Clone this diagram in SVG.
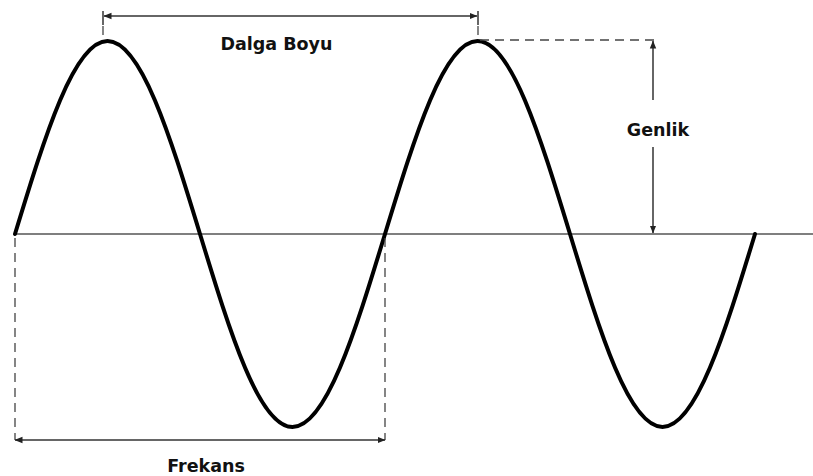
<svg xmlns="http://www.w3.org/2000/svg" width="813" height="476" viewBox="0 0 813 476">
<defs>
<marker id="ah" viewBox="0 0 8 8" refX="7.5" refY="4" markerWidth="8" markerHeight="8" markerUnits="userSpaceOnUse" orient="auto-start-reverse">
<path d="M0,0.8 L8,4 L0,7.2 Z" fill="#222"/>
</marker>
</defs>
<style>
.lbl{font-family:"DejaVu Sans",Verdana,sans-serif;font-weight:bold;font-size:17.5px;fill:#111;text-anchor:middle}
.dim{stroke:#333;stroke-width:1.5;fill:none}
.dash{stroke:#444;stroke-width:1.3;fill:none;stroke-dasharray:9,6}
.axis{stroke:#555;stroke-width:1.6;fill:none}
.wave{stroke:#000;stroke-width:4;fill:none;stroke-linejoin:round;stroke-linecap:round}
</style>
<rect width="813" height="476" fill="#fff"/>
<g id="axis">
<line class="axis" x1="15" y1="234" x2="813" y2="234"/>
</g>
<g id="wave">
<path class="wave" d="M15,234 C45.17,135.13 74.03,41 107.5,41 C140.97,41 169.83,135.13 200,234 C230.17,332.87 258.97,427 292.5,427 C326.03,427 354.83,332.87 385,234 C415.17,135.13 444.03,41 477.5,41 C510.97,41 539.83,135.13 570,234 C600.17,332.87 628.97,427 662.5,427 C696.03,427 724.83,332.87 755,234"/>
</g>
<g id="connectors">
<line class="dash" x1="103" y1="26" x2="103" y2="40"/>
<line class="dash" x1="478" y1="26" x2="478" y2="40"/>
<line class="dim" x1="103" y1="11" x2="103" y2="25"/>
<line class="dim" x1="478" y1="11" x2="478" y2="25"/>
<line class="dim" x1="104" y1="16" x2="477" y2="16" marker-start="url(#ah)" marker-end="url(#ah)"/>
<line class="dash" x1="480" y1="40" x2="658" y2="40"/>
<line class="dim" x1="653" y1="100" x2="653" y2="41" marker-end="url(#ah)"/>
<line class="dim" x1="653" y1="147" x2="653" y2="233" marker-end="url(#ah)"/>
<line class="dash" x1="15" y1="238" x2="15" y2="440"/>
<line class="dash" x1="385" y1="238" x2="385" y2="440"/>
<line class="dim" x1="15" y1="440" x2="385" y2="440" marker-start="url(#ah)" marker-end="url(#ah)"/>
</g>
<g id="label-dalga-boyu"><text class="lbl" x="276.5" y="50">Dalga Boyu</text></g>
<g id="label-genlik"><text class="lbl" x="658" y="136">Genlik</text></g>
<g id="label-frekans"><text class="lbl" x="206" y="472">Frekans</text></g>
</svg>
